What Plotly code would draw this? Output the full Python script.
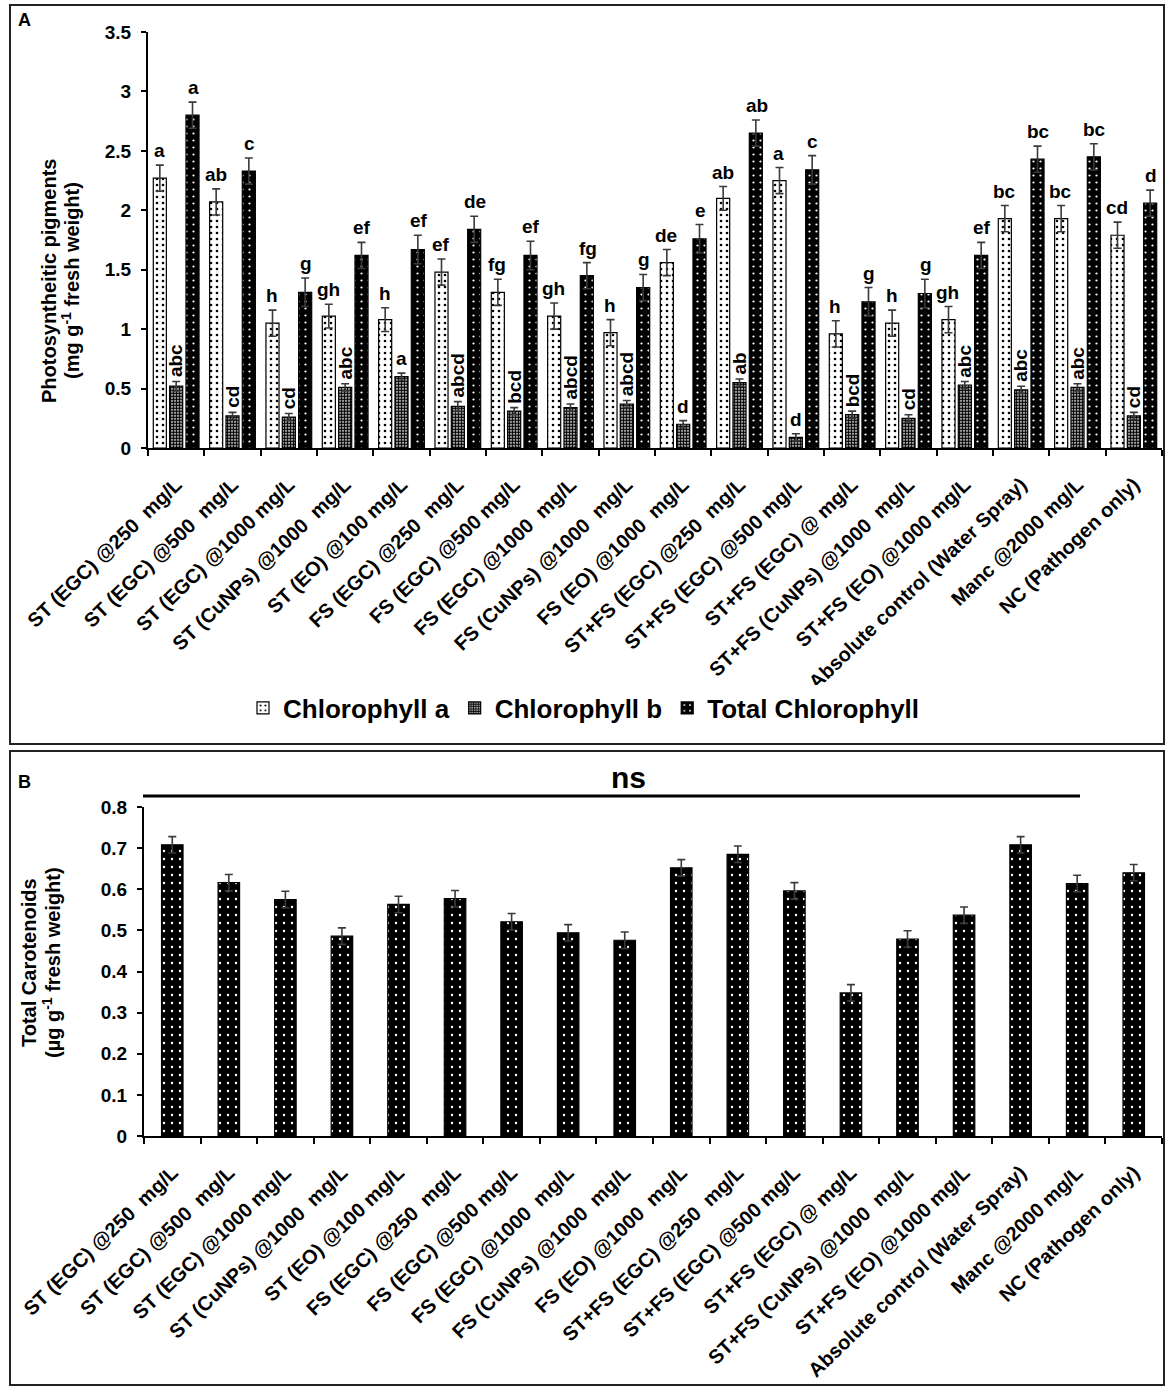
import plotly.graph_objects as go

W, H = 1170, 1390

treatments = [
    "ST (EGC) @250\u00a0 mg/L",
    "ST (EGC) @500\u00a0 mg/L",
    "ST (EGC) @1000 mg/L",
    "ST (CuNPs) @1000\u00a0 mg/L",
    "ST (EO) @100 mg/L",
    "FS (EGC) @250\u00a0 mg/L",
    "FS (EGC) @500 mg/L",
    "FS (EGC) @1000\u00a0 mg/L",
    "FS (CuNPs) @1000\u00a0 mg/L",
    "FS (EO) @1000\u00a0 mg/L",
    "ST+FS (EGC) @250\u00a0 mg/L",
    "ST+FS (EGC) @500 mg/L",
    "ST+FS (EGC) @ mg/L",
    "ST+FS (CuNPs) @1000\u00a0 mg/L",
    "ST+FS (EO) @1000 mg/L",
    "Absolute control (Water Spray)",
    "Manc @2000 mg/L",
    "NC (Pathogen only)",
]

# panel A - photosynthetic pigments (mg g-1 FW)
chl_a = [2.27, 2.07, 1.05, 1.11, 1.08, 1.48, 1.31, 1.11, 0.97, 1.56, 2.10, 2.25, 0.96, 1.05, 1.08, 1.93, 1.93, 1.79]
chl_b = [0.52, 0.27, 0.26, 0.51, 0.60, 0.35, 0.31, 0.34, 0.37, 0.20, 0.55, 0.09, 0.28, 0.25, 0.53, 0.49, 0.51, 0.27]
chl_total = [2.80, 2.33, 1.31, 1.62, 1.67, 1.84, 1.62, 1.45, 1.35, 1.76, 2.65, 2.34, 1.23, 1.30, 1.62, 2.43, 2.45, 2.06]

chl_a_err = [0.11, 0.11, 0.11, 0.10, 0.10, 0.11, 0.11, 0.11, 0.11, 0.11, 0.10, 0.11, 0.11, 0.11, 0.11, 0.11, 0.11, 0.11]
chl_b_err = [0.04, 0.03, 0.03, 0.03, 0.03, 0.04, 0.03, 0.03, 0.03, 0.03, 0.03, 0.03, 0.03, 0.03, 0.03, 0.03, 0.03, 0.03]
chl_total_err = [0.11, 0.11, 0.12, 0.11, 0.12, 0.11, 0.12, 0.11, 0.11, 0.12, 0.11, 0.12, 0.12, 0.12, 0.11, 0.11, 0.11, 0.11]

chl_a_letters = ["a", "ab", "h", "gh", "h", "ef", "fg", "gh", "h", "de", "ab", "a", "h", "h", "gh", "bc", "bc", "cd"]
chl_b_letters = ["abc", "cd", "cd", "abc", "a", "abcd", "bcd", "abcd", "abcd", "d", "ab", "d", "bcd", "cd", "abc", "abc", "abc", "cd"]
chl_total_letters = ["a", "c", "g", "ef", "ef", "de", "ef", "fg", "g", "e", "ab", "c", "g", "g", "ef", "bc", "bc", "d"]

# panel B - total carotenoids (ug g-1 FW)
carotenoids = [0.708, 0.616, 0.575, 0.486, 0.563, 0.577, 0.521, 0.494, 0.476, 0.652, 0.685, 0.596, 0.348, 0.479, 0.537, 0.708, 0.614, 0.640]
carotenoids_err = [0.02, 0.02, 0.02, 0.02, 0.02, 0.02, 0.02, 0.02, 0.02, 0.02, 0.02, 0.02, 0.02, 0.02, 0.02, 0.02, 0.02, 0.02]

FONT = "Arial, Liberation Sans, sans-serif"
ERR_COLOR = "#3a3a3a"


def px(x):
    return x / W


def py(y):
    return 1 - y / H


def err(arr):
    return dict(type="data", array=arr, color=ERR_COLOR, thickness=1.6, width=4)


def bold(size):
    return dict(family=FONT, size=size, color="black", weight="bold")


fig = go.Figure()

fig.add_trace(go.Bar(
    name="Chlorophyll a", x=treatments, y=chl_a, error_y=err(chl_a_err),
    marker=dict(color="white", line=dict(color="black", width=1.2),
                pattern=dict(shape=".", bgcolor="white", fgcolor="black",
                             size=6, solidity=0.15, fillmode="replace")),
    xaxis="x", yaxis="y",
))
fig.add_trace(go.Bar(
    name="Chlorophyll b", x=treatments, y=chl_b, error_y=err(chl_b_err),
    marker=dict(color="black", line=dict(color="black", width=1.2),
                pattern=dict(shape=".", bgcolor="white", fgcolor="black",
                             size=3, solidity=0.7, fillmode="replace")),
    xaxis="x", yaxis="y",
))
fig.add_trace(go.Bar(
    name="Total Chlorophyll", x=treatments, y=chl_total, error_y=err(chl_total_err),
    marker=dict(color="black", line=dict(color="black", width=1.2),
                pattern=dict(shape=".", bgcolor="black", fgcolor="white",
                             size=7, solidity=0.08, fillmode="replace")),
    xaxis="x", yaxis="y",
))
fig.add_trace(go.Bar(
    name="Total Carotenoids", x=treatments, y=carotenoids, error_y=err(carotenoids_err),
    width=0.38, showlegend=False,
    marker=dict(color="black", line=dict(color="black", width=1.2),
                pattern=dict(shape=".", bgcolor="black", fgcolor="white",
                             size=8, solidity=0.07, fillmode="replace")),
    xaxis="x2", yaxis="y2",
))

# significance letters above the error bars
annotations = []
groups = [
    (chl_a, chl_a_err, chl_a_letters, -17),
    (chl_b, chl_b_err, chl_b_letters, 0),
    (chl_total, chl_total_err, chl_total_letters, 17),
]
for vals, errs, letters, shift in groups:
    for t, v, e, lab in zip(treatments, vals, errs, letters):
        rotated = shift == 0 and len(lab) > 1
        annotations.append(dict(
            x=t, y=v + e, xref="x", yref="y", text=lab, showarrow=False,
            xshift=shift, yshift=2, yanchor="bottom", xanchor="center",
            textangle=-90 if rotated else 0, font=bold(19),
        ))


def label(x, y, text, size, angle=0, xanchor="center"):
    return dict(x=px(x), y=py(y), xref="paper", yref="paper", text=text, showarrow=False,
                xanchor=xanchor, yanchor="middle", textangle=angle, font=bold(size))


annotations += [
    label(16, 20, "A", 18, xanchor="left"),
    label(16, 782, "B", 18, xanchor="left"),
    label(628, 777, "ns", 30),
    # y-axis titles, two tight lines each
    label(49, 281, "Photosyntheitic pigments", 20, angle=-90),
    label(70, 281, "(mg g<sup>-1</sup> fresh weight)", 20, angle=-90),
    label(29, 963, "Total Carotenoids", 20, angle=-90),
    label(51, 963, "(µg g<sup>-1</sup> fresh weight)", 20, angle=-90),
]

shapes = [
    dict(type="rect", xref="paper", yref="paper", x0=px(10), x1=px(1164), y0=py(744), y1=py(5),
         line=dict(color="#222", width=2)),
    dict(type="rect", xref="paper", yref="paper", x0=px(10), x1=px(1164), y0=py(1385), y1=py(751),
         line=dict(color="#222", width=2)),
    dict(type="line", xref="paper", yref="paper", x0=px(143), x1=px(1080), y0=py(796), y1=py(796),
         line=dict(color="black", width=3)),
]

xcommon = dict(
    type="category", ticks="outside", tickson="boundaries", ticklen=6, tickwidth=2,
    tickcolor="black", showline=True, linecolor="black", linewidth=2, showgrid=False,
    tickangle=-44, tickfont=bold(20), ticklabelstandoff=15, automargin=False,
)
ycommon = dict(
    ticks="outside", ticklen=5, tickwidth=2, tickcolor="black", showline=True,
    linecolor="black", linewidth=2, showgrid=False, zeroline=False, tickfont=bold(19),
    ticklabelstandoff=6, automargin=False,
)

fig.update_layout(
    width=W, height=H, margin=dict(l=0, r=0, t=0, b=0, autoexpand=False),
    paper_bgcolor="white", plot_bgcolor="white",
    font=dict(family=FONT, color="black"),
    barmode="group", bargap=0.13, bargroupgap=0.2,
    xaxis=dict(domain=[px(148), px(1162)], anchor="y", **xcommon),
    yaxis=dict(domain=[py(448), py(32)], anchor="x", range=[0, 3.5], dtick=0.5, **ycommon),
    xaxis2=dict(domain=[px(144), px(1162)], anchor="y2", **xcommon),
    yaxis2=dict(domain=[py(1136), py(807)], anchor="x2", range=[0, 0.8], dtick=0.1, **ycommon),
    legend=dict(orientation="h", x=px(584), xanchor="center", y=py(708), yanchor="middle",
                font=bold(26), itemwidth=30),
    annotations=annotations,
    shapes=shapes,
)

# drop the default page margin so the figure sits at the window origin
fig.write_html("out.html", config={"displayModeBar": False},
               post_script="document.body.style.margin='0';")
